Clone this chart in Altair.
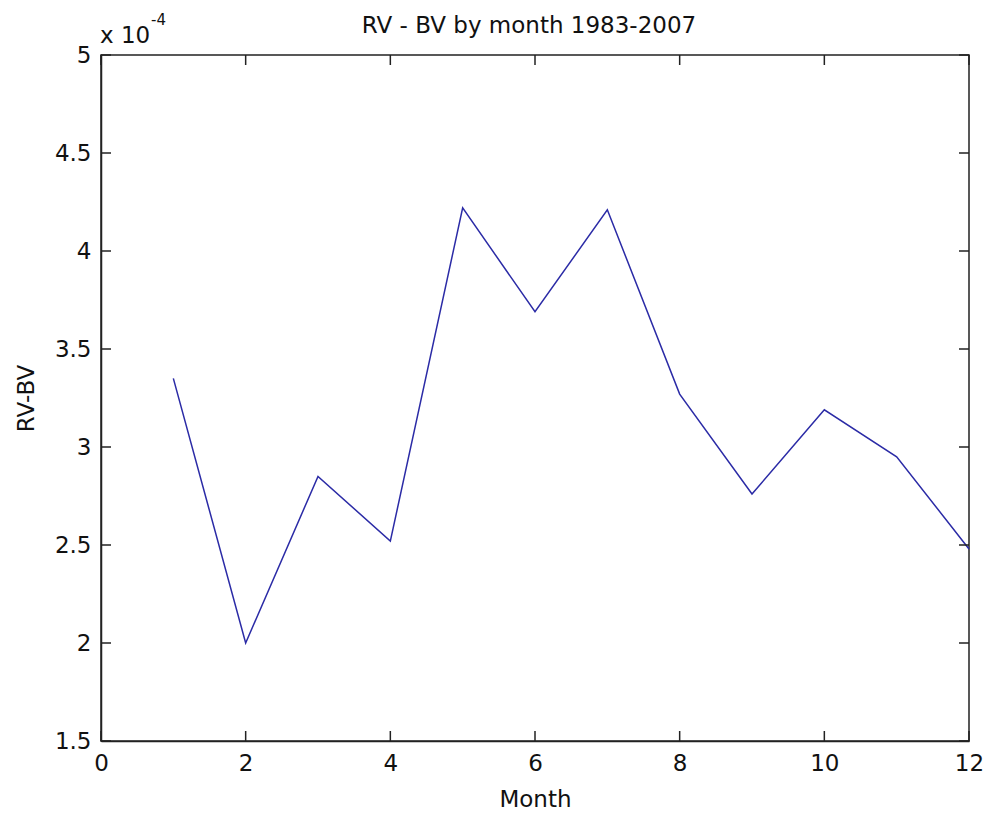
import altair as alt
import pandas as pd

# ---- data ----
months = [1, 2, 3, 4, 5, 6, 7, 8, 9, 10, 11, 12]
rv_bv = [3.35e-4, 2.00e-4, 2.85e-4, 2.52e-4, 4.22e-4, 3.69e-4,
         4.21e-4, 3.27e-4, 2.76e-4, 3.19e-4, 2.95e-4, 2.48e-4]
x_ticks = [0, 2, 4, 6, 8, 10, 12]
y_ticks = [1.5, 2, 2.5, 3, 3.5, 4, 4.5, 5]
title_text = "RV - BV by month 1983-2007"
x_label = "Month"
y_label = "RV-BV"
exp_base = "x 10"
exp_power = "-4"

FONT = "DejaVu Sans"
FS = 23
INK = "#111111"
FRAME = "#222222"
LINE = "#2b2ba6"
W, H = 868, 686

df = pd.DataFrame({"Month": months, "RV_BV": rv_bv})
xt = pd.DataFrame({"Month": x_ticks})
yt = pd.DataFrame({"scaled": y_ticks})

xscale = alt.Scale(domain=[0, 12], nice=False, zero=False)
yscale = alt.Scale(domain=[1.5, 5], nice=False, zero=False)

x_axis = alt.Axis(values=x_ticks, title=x_label, ticks=False, tickSize=0,
                  labelPadding=11, grid=False, labelFlush=False, labelOverlap=False,
                  titleX=W / 2, titleY=65, titleBaseline="alphabetic",
                  titleAlign="center")
y_axis = alt.Axis(values=y_ticks, format="~g", title=y_label, ticks=False,
                  tickSize=0, labelPadding=10, grid=False, labelFlush=False,
                  labelOverlap=False,
                  titleX=-68, titleY=H / 2, titleBaseline="alphabetic",
                  titleAlign="center", titleAngle=270)

line = (
    alt.Chart(df)
    .transform_calculate(scaled="datum.RV_BV * 10000")
    .mark_line(color=LINE, strokeWidth=1.5)
    .encode(
        x=alt.X("Month:Q", scale=xscale, axis=x_axis),
        y=alt.Y("scaled:Q", scale=yscale, axis=y_axis),
    )
)

bottom_ticks = alt.Chart(xt).mark_rule(color=FRAME, strokeWidth=1.5).encode(
    x=alt.X("Month:Q", scale=xscale, axis=x_axis), y=alt.value(H), y2=alt.value(H - 10))
top_ticks = alt.Chart(xt).mark_rule(color=FRAME, strokeWidth=1.5).encode(
    x=alt.X("Month:Q", scale=xscale, axis=x_axis), y=alt.value(0), y2=alt.value(10))
left_ticks = alt.Chart(yt).mark_rule(color=FRAME, strokeWidth=1.5).encode(
    y=alt.Y("scaled:Q", scale=yscale, axis=y_axis), x=alt.value(0), x2=alt.value(10))
right_ticks = alt.Chart(yt).mark_rule(color=FRAME, strokeWidth=1.5).encode(
    y=alt.Y("scaled:Q", scale=yscale, axis=y_axis), x=alt.value(W), x2=alt.value(W - 10))

title_mark = alt.Chart(pd.DataFrame({"s": [title_text]})).mark_text(
    font=FONT, fontSize=FS, color=INK, align="center", baseline="alphabetic"
).encode(text="s:N", x=alt.value(428), y=alt.value(-22))

exp_mark = alt.Chart(pd.DataFrame({"s": [exp_base]})).mark_text(
    font=FONT, fontSize=FS, color=INK, align="left", baseline="alphabetic"
).encode(text="s:N", x=alt.value(-1), y=alt.value(-12))

pow_mark = alt.Chart(pd.DataFrame({"s": [exp_power]})).mark_text(
    font=FONT, fontSize=15, color=INK, align="left", baseline="alphabetic"
).encode(text="s:N", x=alt.value(50), y=alt.value(-30))

chart = (
    alt.layer(line, bottom_ticks, top_ticks, left_ticks, right_ticks,
              title_mark, exp_mark, pow_mark)
    .properties(width=W, height=H, autosize="none",
                padding={"left": 101, "top": 55, "right": 20, "bottom": 75},
                background="white")
    .configure_view(stroke=FRAME, strokeWidth=1.5)
    .configure_axis(labelFont=FONT, labelFontSize=FS, labelColor=INK,
                    titleFont=FONT, titleFontSize=FS, titleColor=INK,
                    titleFontWeight="normal", domainColor=FRAME, domainWidth=1.5)
)

chart.save("out.html", embed_options={"renderer": "svg", "actions": False})
